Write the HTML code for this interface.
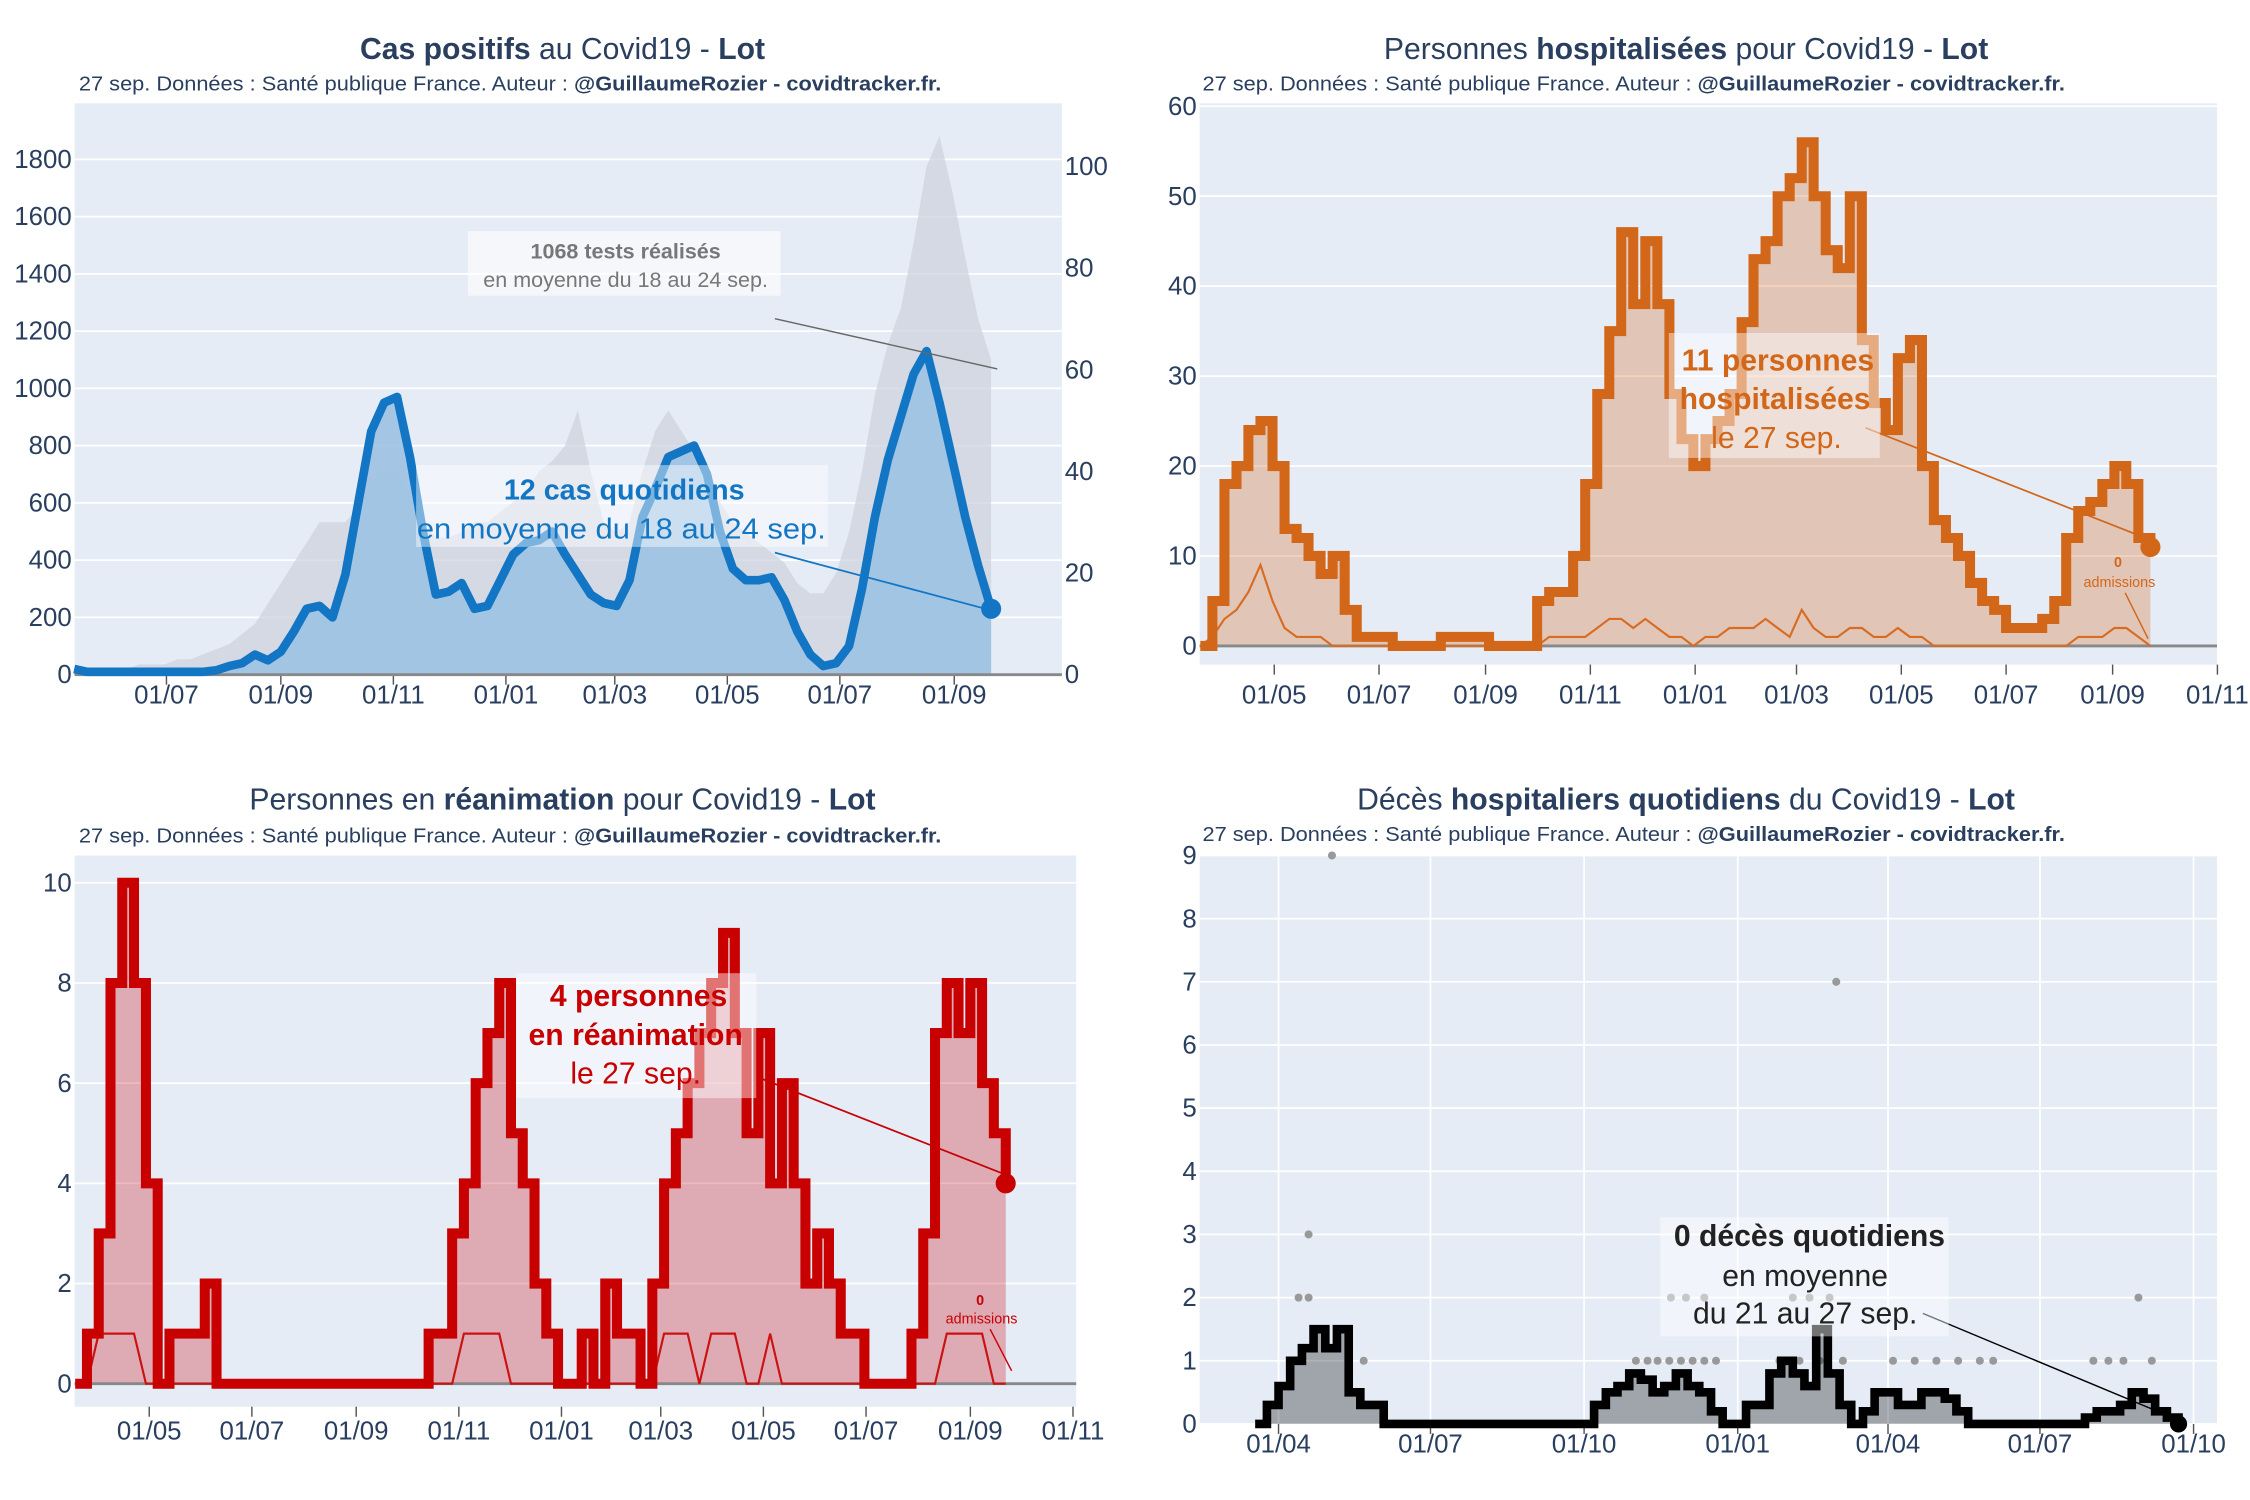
<!DOCTYPE html>
<html><head><meta charset="utf-8"><style>
html,body{margin:0;padding:0;background:#fff;}
svg{display:block;font-family:"Liberation Sans",sans-serif;}
</style></head><body>
<svg id="root" xmlns="http://www.w3.org/2000/svg" width="2250" height="1500" viewBox="0 0 1568 1045" preserveAspectRatio="none">
<rect x="0" y="0" width="1568" height="1045" fill="#fff"/>
<g fill="#2a3f5f">
<text x="392" y="41" font-size="21" text-anchor="middle"><tspan font-weight="bold">Cas positifs</tspan> au Covid19 - <tspan font-weight="bold">Lot</tspan></text>
<text x="55" y="63" font-size="14" textLength="601" lengthAdjust="spacingAndGlyphs">27 sep. Données : Santé publique France. Auteur : <tspan font-weight="bold">@GuillaumeRozier - covidtracker.fr.</tspan></text>
<text x="1175" y="41" font-size="21" text-anchor="middle">Personnes <tspan font-weight="bold">hospitalisées</tspan> pour Covid19 - <tspan font-weight="bold">Lot</tspan></text>
<text x="838" y="63" font-size="14" textLength="601" lengthAdjust="spacingAndGlyphs">27 sep. Données : Santé publique France. Auteur : <tspan font-weight="bold">@GuillaumeRozier - covidtracker.fr.</tspan></text>
<text x="392" y="564" font-size="21" text-anchor="middle">Personnes en <tspan font-weight="bold">réanimation</tspan> pour Covid19 - <tspan font-weight="bold">Lot</tspan></text>
<text x="55" y="587" font-size="14" textLength="601" lengthAdjust="spacingAndGlyphs">27 sep. Données : Santé publique France. Auteur : <tspan font-weight="bold">@GuillaumeRozier - covidtracker.fr.</tspan></text>
<text x="1175" y="564" font-size="21" text-anchor="middle">Décès <tspan font-weight="bold">hospitaliers quotidiens</tspan> du Covid19 - <tspan font-weight="bold">Lot</tspan></text>
<text x="838" y="586" font-size="14" textLength="601" lengthAdjust="spacingAndGlyphs">27 sep. Données : Santé publique France. Auteur : <tspan font-weight="bold">@GuillaumeRozier - covidtracker.fr.</tspan></text>
</g>
<g id="charts"></g>
<g id="annots"></g>
</svg>
<script>
// ---- data ----
const casesStartDay = -50; // days from 2020-07-01
const casesVals = [20,10,10,10,10,10,10,10,10,10,10,15,30,40,70,50,80,150,230,240,200,350,600,850,950,970,760,500,280,290,320,230,240,330,420,460,470,500,420,350,280,250,240,330,550,650,760,780,800,700,500,370,330,330,340,260,150,70,30,40,100,300,550,750,900,1050,1130,950,750,550,380,230];
const testsVals = [1,1,1,1,1,2,2,2,3,3,4,5,6,8,10,14,18,22,26,30,30,30,33,38,40,40,36,30,27,27,28,30,30,32,34,36,40,42,45,52,40,30,28,30,40,48,52,48,44,38,34,30,28,26,24,22,18,16,16,20,28,40,55,65,72,85,100,106,95,82,70,62];
const casesLeftTicks = [0,200,400,600,800,1000,1200,1400,1600,1800];
const casesRightTicks = [0,20,40,60,80,100];
const casesXTicks = [[0,'01/07'],[62,'01/09'],[123,'01/11'],[184,'01/01'],[243,'01/03'],[304,'01/05'],[365,'01/07'],[427,'01/09']];

const hospStartDay = -43; // days from 2020-05-01
const hospVals = [0,5,18,20,24,25,20,13,12,10,8,10,4,1,1,1,0,0,0,0,1,1,1,1,0,0,0,0,5,6,6,10,18,28,35,46,38,45,38,28,23,20,23,25,28,36,43,45,50,52,56,50,44,42,50,34,27,24,32,34,20,14,12,10,7,5,4,2,2,2,3,5,12,15,16,18,20,18,12,11];
const hospAdmVals = [0,1,3,4,6,9,5,2,1,1,1,0,0,0,0,0,0,0,0,0,0,0,0,0,0,0,0,0,0,1,1,1,1,2,3,3,2,3,2,1,1,0,1,1,2,2,2,3,2,1,4,2,1,1,2,2,1,1,2,1,1,0,0,0,0,0,0,0,0,0,0,0,0,1,1,1,2,2,1,0];
const hospYTicks = [0,10,20,30,40,50,60];
const hospXTicks = [[0,'01/05'],[61,'01/07'],[123,'01/09'],[184,'01/11'],[245,'01/01'],[304,'01/03'],[365,'01/05'],[426,'01/07'],[488,'01/09'],[549,'01/11']];

const reaStartDay = -44; // days from 2020-05-01
const reaVals = [0,1,3,8,10,8,4,0,1,1,1,2,0,0,0,0,0,0,0,0,0,0,0,0,0,0,0,0,0,0,1,1,3,4,6,7,8,5,4,2,1,0,0,1,0,2,1,1,0,2,4,5,6,7,8,9,7,5,7,4,6,4,2,3,2,1,1,0,0,0,0,1,3,7,8,7,8,6,5,4];
const reaAdmVals = [0,0,1,1,1,1,0,0,0,0,0,0,0,0,0,0,0,0,0,0,0,0,0,0,0,0,0,0,0,0,0,0,0,1,1,1,1,0,0,0,0,0,0,0,0,0,0,0,0,0,1,1,1,0,1,1,1,0,0,1,0,0,0,0,0,0,0,0,0,0,0,0,0,0,1,1,1,1,0,0];
const reaYTicks = [0,2,4,6,8,10];
const reaXTicks = [[0,'01/05'],[61,'01/07'],[123,'01/09'],[184,'01/11'],[245,'01/01'],[304,'01/03'],[365,'01/05'],[426,'01/07'],[488,'01/09'],[549,'01/11']];

const deathStartDay = -14; // days from 2020-04-01
const deathVals = [0,0.3,0.6,1,1.2,1.5,1.2,1.5,0.5,0.3,0.3,0,0,0,0,0,0,0,0,0,0,0,0,0,0,0,0,0,0,0.3,0.5,0.6,0.8,0.7,0.5,0.6,0.8,0.6,0.5,0.2,0,0,0.3,0.3,0.8,1,0.8,0.6,1.5,0.8,0.3,0,0.2,0.5,0.5,0.3,0.3,0.5,0.5,0.4,0.2,0,0,0,0,0,0,0,0,0,0,0.1,0.2,0.2,0.3,0.5,0.4,0.2,0.1,0];
const deathDotDays = [32,18,12,18,51,214,221,227,234,241,248,255,262,235,244,255,334,308,318,330,300,312,324,338,368,381,394,407,420,428,488,497,506,515,523];
const deathDotVals = [9,3,2,2,1,1,1,1,1,1,1,1,1,2,2,2,7,2,2,2,1,1,1,1,1,1,1,1,1,1,1,1,1,2,1];
const deathYTicks = [0,1,2,3,4,5,6,7,8,9];
const deathXTicks = [[0,'01/04'],[91,'01/07'],[183,'01/10'],[275,'01/01'],[365,'01/04'],[456,'01/07'],[548,'01/10']];

// ---- drawing ----
const NS = 'http://www.w3.org/2000/svg';
const root = document.getElementById('charts');
function mk(tag, attrs, parent){const e=document.createElementNS(NS,tag);for(const k in attrs)e.setAttribute(k,attrs[k]);(parent||root).appendChild(e);return e;}
function lin(d0,r0,d1,r1){return v=>r0+(v-d0)*(r1-r0)/(d1-d0);}
function linePath(days,vals,x,y,step){return vals.map((v,i)=>{
  const X=x(days[i]).toFixed(1), Y=y(v).toFixed(1);
  if(i===0) return 'M'+X+','+Y;
  return step ? 'H'+X+'V'+Y : 'L'+X+','+Y;}).join('');}
function areaPath(days,vals,x,y,step){return linePath(days,vals,x,y,step)+'L'+x(days[days.length-1]).toFixed(1)+','+y(0)+'L'+x(days[0]).toFixed(1)+','+y(0)+'Z';}
function daysOf(start,vals){return vals.map((v,i)=>start+7*i);}

function frame(name,px0,py0,px1,py1,y,yTicks,x,xTicks,labX,tickY,vgrid){
  const g=mk('g',{});
  
  
  const bg=mk('rect',{x:px0,y:py0,width:px1-px0,height:py1-py0,fill:'#e5ecf6'},g);
  
  
  yTicks.forEach(t=>{
    const gl=mk('line',{x1:px0,x2:px1,y1:y(t),y2:y(t),stroke:'#fff','stroke-width':1.2},g);
    
    
    const tl=mk('text',{x:labX,y:y(t)+6,'font-size':18,fill:'#2a3f5f','text-anchor':'end'},g);
    
    
    tl.textContent=t;
  });
  xTicks.forEach(t=>{
    const xx=x(t[0]);
    if(vgrid){const vl=mk('line',{x1:xx,x2:xx,y1:py0,y2:py1,stroke:'#fff','stroke-width':1.2},g);
      
      }
    const tm=mk('line',{x1:xx,x2:xx,y1:py1,y2:py1+7,stroke:'#555','stroke-width':1},g);
    
    
    const tl=mk('text',{x:xx,y:tickY,'font-size':18,fill:'#2a3f5f','text-anchor':'middle'},g);
    
    
    tl.textContent=t[1];
  });
  return g;
}

// Panel 1: cases
(function(){
  const x=lin(0,116,427,665), y=lin(0,470,1800,111), yr=lin(0,470,100,116);
  const g=frame('cases',52,72,740,470,y,casesLeftTicks,x,casesXTicks,50,490,false);
  casesRightTicks.forEach(t=>{const tl=mk('text',{x:742,y:yr(t)+6,'font-size':18,fill:'#2a3f5f'},g);
    
    
    tl.textContent=t;});
  const days=daysOf(casesStartDay,casesVals);
  const ta=mk('path',{d:areaPath(days,testsVals,x,yr),fill:'#cdd3de',opacity:0.75},g);
  
  
  const ca=mk('path',{d:areaPath(days,casesVals,x,y),fill:'#9cc2e2',opacity:0.9},g);
  
  
  const base=mk('line',{x1:52,x2:740,y1:470,y2:470,stroke:'#888','stroke-width':2},g);
  
  
  const cl=mk('path',{d:linePath(days,casesVals,x,y),fill:'none',stroke:'#1276c4','stroke-width':6,'stroke-linejoin':'round'},g);
  
  
  const n=days.length-1;
  const dot=mk('circle',{cx:x(days[n]),cy:y(casesVals[n]),r:7,fill:'#1276c4'},g);
  
  
})();

// Panel 2: hosp
(function(){
  const x=lin(0,888,365,1325), y=lin(0,450,60,74);
  const g=frame('hosp',836,72,1545,463,y,hospYTicks,x,hospXTicks,834,490,false);
  const days=daysOf(hospStartDay,hospVals);
  const a=mk('path',{d:areaPath(days,hospVals,x,y,true),fill:'rgba(214,110,40,0.3)'},g);
  
  
  const base=mk('line',{x1:836,x2:1545,y1:450,y2:450,stroke:'#888','stroke-width':2},g);
  
  
  const al=mk('path',{d:linePath(days,hospAdmVals,x,y),fill:'none',stroke:'#d86c22','stroke-width':1.5},g);
  
  
  const l=mk('path',{d:linePath(days,hospVals,x,y,true),fill:'none',stroke:'#d2671a','stroke-width':7,'stroke-linejoin':'miter'},g);
  
  
  const n=days.length-1;
  const dot=mk('circle',{cx:x(days[n]),cy:y(hospVals[n]),r:7,fill:'#d2671a'},g);
  
  
})();

// Panel 3: rea
(function(){
  const x=lin(0,104,365,532), y=lin(0,964,10,615);
  const g=frame('rea',52,596,750,980,y,reaYTicks,x,reaXTicks,50,1003,false);
  const days=daysOf(reaStartDay,reaVals);
  const a=mk('path',{d:areaPath(days,reaVals,x,y,true),fill:'rgba(205,20,30,0.3)'},g);
  
  
  const base=mk('line',{x1:52,x2:750,y1:964,y2:964,stroke:'#888','stroke-width':2},g);
  
  
  const al=mk('path',{d:linePath(days,reaAdmVals,x,y),fill:'none',stroke:'#cc1111','stroke-width':1.5},g);
  
  
  const l=mk('path',{d:linePath(days,reaVals,x,y,true),fill:'none',stroke:'#c80000','stroke-width':7,'stroke-linejoin':'miter'},g);
  
  
  const n=days.length-1;
  const dot=mk('circle',{cx:x(days[n]),cy:y(reaVals[n]),r:7,fill:'#c80000'},g);
  
  
})();

// Panel 4: deaths
(function(){
  const x=lin(0,891,275,1211), y=lin(0,992,9,596);
  const g=frame('deaths',836,596,1545,992,y,deathYTicks,x,deathXTicks,834,1012,true);
  const days=daysOf(deathStartDay,deathVals);
  deathDotDays.forEach((d,i)=>{const c=mk('circle',{cx:x(d),cy:y(deathDotVals[i]),r:2.8,fill:'#999'},g);
    
    });
  const a=mk('path',{d:areaPath(days,deathVals,x,y,true),fill:'rgba(0,0,0,0.3)'},g);
  
  
  const l=mk('path',{d:linePath(days,deathVals,x,y,true),fill:'none',stroke:'#000','stroke-width':6,'stroke-linejoin':'miter'},g);
  
  
  const n=days.length-1;
  const dot=mk('circle',{cx:x(days[n]),cy:y(deathVals[n]),r:6,fill:'#000'},g);
  
  
})();
</script>
<script>
(function(){
const A=document.getElementById('annots');
A.innerHTML=`
<g>
<line x1="540" y1="222" x2="695" y2="257" stroke="#666" stroke-width="1"/>
<rect x="326" y="161" width="218" height="45" fill="#fff" opacity="0.6"/>
<text x="436" y="180" font-size="15" font-weight="bold" fill="#777" text-anchor="middle">1068 tests réalisés</text>
<text x="436" y="200" font-size="15" fill="#777" text-anchor="middle">en moyenne du 18 au 24 sep.</text></g>
<g>
<line x1="540" y1="385" x2="690" y2="425" stroke="#1276c4" stroke-width="1.2"/>
<rect x="290" y="324" width="287" height="57" fill="#fff" opacity="0.45"/>
<text x="435" y="348" font-size="20" font-weight="bold" fill="#1276c4" text-anchor="middle">12 cas quotidiens</text>
<text x="433" y="375" font-size="20" fill="#1276c4" text-anchor="middle" textLength="285" lengthAdjust="spacingAndGlyphs">en moyenne du 18 au 24 sep.</text></g>
<g>
<line x1="1300" y1="298" x2="1488" y2="372" stroke="#d2671a" stroke-width="1.2"/>
<rect x="1163" y="232" width="147" height="87" fill="#fff" opacity="0.45"/>
<text x="1239" y="258" font-size="21" font-weight="bold" fill="#d2671a" text-anchor="middle">11 personnes</text>
<text x="1237" y="285" font-size="21" font-weight="bold" fill="#d2671a" text-anchor="middle">hospitalisées</text>
<text x="1238" y="312" font-size="21" fill="#d2671a" text-anchor="middle">le 27 sep.</text>
<text x="1476" y="395" font-size="10" font-weight="bold" fill="#d2671a" text-anchor="middle">0</text>
<text x="1477" y="409" font-size="10" fill="#d2671a" text-anchor="middle">admissions</text>
<line x1="1481" y1="413" x2="1497" y2="445" stroke="#d2671a" stroke-width="1"/></g>
<g>
<line x1="527" y1="750" x2="705" y2="820" stroke="#c80000" stroke-width="1.2"/>
<rect x="360" y="678" width="167" height="87" fill="#fff" opacity="0.45"/>
<text x="445" y="701" font-size="21" font-weight="bold" fill="#c80000" text-anchor="middle">4 personnes</text>
<text x="443" y="728" font-size="21" font-weight="bold" fill="#c80000" text-anchor="middle">en réanimation</text>
<text x="443" y="755" font-size="21" fill="#c80000" text-anchor="middle">le 27 sep.</text>
<text x="683" y="909" font-size="10" font-weight="bold" fill="#c80000" text-anchor="middle">0</text>
<text x="684" y="922" font-size="10" fill="#c80000" text-anchor="middle">admissions</text>
<line x1="690" y1="926" x2="705" y2="955" stroke="#c80000" stroke-width="1"/></g>
<g>
<line x1="1340" y1="915" x2="1515" y2="988" stroke="#000" stroke-width="1"/>
<rect x="1157" y="848" width="201" height="83" fill="#fff" opacity="0.45"/>
<text x="1261" y="868" font-size="21" font-weight="bold" fill="#222" text-anchor="middle">0 décès quotidiens</text>
<text x="1258" y="896" font-size="21" fill="#222" text-anchor="middle">en moyenne</text>
<text x="1258" y="922" font-size="21" fill="#222" text-anchor="middle">du 21 au 27 sep.</text></g>`;
})();
</script>
</body></html>
